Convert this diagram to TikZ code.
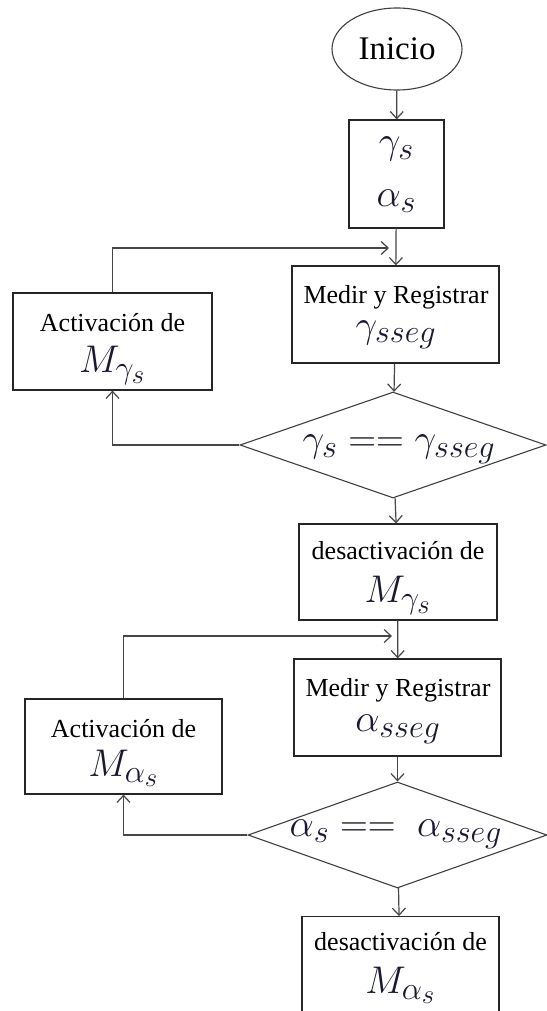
\documentclass[tikz,border=0pt]{standalone}
\usepackage{graphicx}
\usepackage{fontspec}
\setmainfont{Liberation Serif}
\usetikzlibrary{shapes.geometric,arrows.meta}
\definecolor{linec}{RGB}{70,70,70}
\definecolor{mathc}{RGB}{25,25,50}
\newcommand{\txtf}{\fontsize{26}{31}\selectfont}
\newcommand{\mth}[1]{{\color{mathc}\scalebox{1.55}{\fontsize{24.88}{28}\selectfont$#1$}}}
\tikzset{
  box/.style={draw=black!85, line width=1.2pt, rectangle, inner sep=0pt, align=center, font=\txtf},
  term/.style={draw=black!75, line width=1.1pt, ellipse, inner sep=0pt, minimum width=130pt, minimum height=82pt, font=\fontsize{33}{36}\selectfont},
  dec/.style={draw=black!75, line width=1.1pt, diamond, aspect=2.7, inner sep=0pt},
  lbl/.style={font=\txtf, align=center, inner sep=0pt},
  flow/.style={draw=linec, line width=1.2pt, -{Straight Barb[length=7pt,width=13pt]}},
}
\begin{document}
\begin{tikzpicture}[x=1pt,y=-1pt]
\useasboundingbox[fill=white] (0,0) rectangle (546,1011);
% nodes
\node[term] (ini) at (397,49) {Inicio};
\node[box, minimum width=95pt, minimum height=108pt] (b1) at (396.5,174) {};
\node[lbl] (b1t) at (396.5,175)
  {\mth{\gamma_s}\\[22pt]\mth{\alpha_s}};
\node[box, minimum width=207pt, minimum height=97pt] (m1) at (395.5,314.5) {};
\node[lbl] (m1t) at (396,317)
  {Medir y Registrar\\[3pt]\mth{\gamma_{sseg}}};
\node[box, minimum width=199pt, minimum height=97pt] (a1) at (112.5,341.5) {};
\node[lbl] (a1t) at (112.5,349)
  {Activación de\\[10pt]\mth{M_{\gamma_s}}};
\node[dec, minimum width=306pt, minimum height=106pt] (d1) at (393,445) {};
\node[lbl] (d1t) at (399,449) {\mth{\gamma_s == \gamma_{sseg}}};
\node[box, minimum width=198pt, minimum height=96pt] (da1) at (398,572) {};
\node[lbl] (da1t) at (398,578)
  {desactivación de\\[12pt]\mth{M_{\gamma_s}}};
\node[box, minimum width=207pt, minimum height=97pt] (m2) at (397.5,707.5) {};
\node[lbl] (m2t) at (398,711)
  {Medir y Registrar\\[4pt]\mth{\alpha_{sseg}}};
\node[box, minimum width=197pt, minimum height=95pt] (a2) at (123.5,746.5) {};
\node[lbl] (a2t) at (123.5,753)
  {Activación de\\[8pt]\mth{M_{\alpha_s}}};
\node[dec, minimum width=299pt, minimum height=106pt] (d2) at (397.5,835) {};
\node[lbl] (d2t) at (396,834) {\mth{\alpha_s ==\; \alpha_{sseg}}};
\node[box, minimum width=197pt, minimum height=150pt, anchor=north] (da2) at (400.5,916) {};
\node[lbl, anchor=north] (da2t) at (400.5,932)
  {desactivación de\\[12pt]\mth{M_{\alpha_s}}};
% junction points
\coordinate (j1) at (389,248);
\coordinate (j2) at (392,636);
% connectors
\draw[flow] (ini) -- (b1);
\draw[flow] (b1) -- (m1);
\draw[flow] (a1.north) |- (j1);
\draw[flow] (m1) -- (d1);
\draw[flow] (d1.west) -| (a1.south);
\draw[flow] (d1) -- (da1);
\draw[flow] (da1) -- (m2);
\draw[flow] (a2.north) |- (j2);
\draw[flow] (m2) -- (d2);
\draw[flow] (d2.west) -| (a2.south);
\draw[flow] (d2) -- (da2);
\end{tikzpicture}
\end{document}
